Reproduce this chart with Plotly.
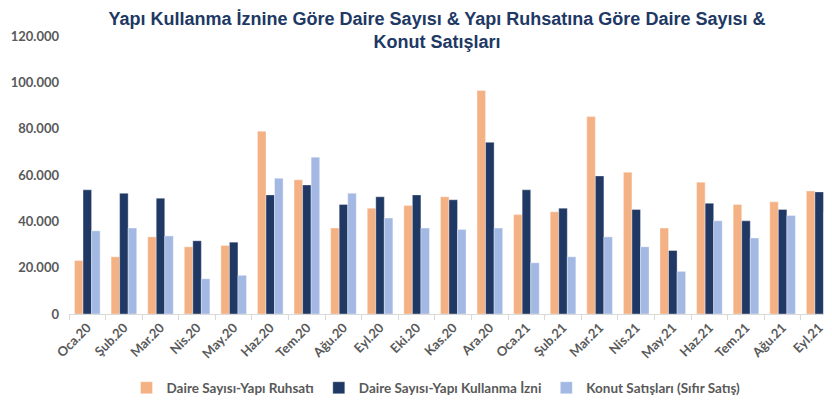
import plotly.graph_objects as go

categories = ["Oca.20", "Şub.20", "Mar.20", "Nis.20", "May.20", "Haz.20", "Tem.20",
              "Ağu.20", "Eyl.20", "Eki.20", "Kas.20", "Ara.20", "Oca.21", "Şub.21",
              "Mar.21", "Nis.21", "May.21", "Haz.21", "Tem.21", "Ağu.21", "Eyl.21"]

ruhsat = [23100, 24700, 33300, 29000, 29600, 78900, 57900, 37100, 45700, 46800, 50600,
          96500, 42900, 44100, 85200, 61200, 37100, 56900, 47300, 48400, 53100]
kullanma = [53600, 52100, 50000, 31600, 31000, 51400, 55700, 47300, 50600, 51400, 49300,
            74100, 53600, 45700, 59600, 45100, 27400, 47800, 40200, 45100, 52700]
satis = [35900, 37100, 33700, 15200, 16700, 58600, 67700, 52100, 41400, 37100, 36500,
         37100, 22100, 24700, 33300, 29000, 18400, 40200, 32800, 42500, 44100]

series_names = ["Daire Sayısı-Yapı Ruhsatı", "Daire Sayısı-Yapı Kullanma İzni",
                "Konut Satışları (Sıfır Satış)"]
colors = ["#F4B183", "#203864", "#A3B8E2"]

title_text = "Yapı Kullanma İznine Göre Daire Sayısı & Yapı Ruhsatına Göre Daire Sayısı &<br>Konut Satışları"

W, H = 824, 398  # page body adds an 8px offset

fig = go.Figure()
for name, vals, col in zip(series_names, [ruhsat, kullanma, satis], colors):
    fig.add_trace(go.Bar(
        x=categories, y=vals, name=name,
        marker=dict(color=col, line=dict(color="rgba(255,255,255,0.6)", width=0.6)),
    ))

fig.update_layout(
    width=W, height=H,
    margin=dict(l=61, r=0, t=28, b=92, autoexpand=False),
    plot_bgcolor="white", paper_bgcolor="white",
    barmode="group", bargap=0.30, bargroupgap=0,
    separators=",.",
    title=dict(
        text=title_text,
        font=dict(family="Liberation Sans", size=18, color="#203864", weight="bold"),
        x=429 / W, xanchor="center", xref="container",
        y=1 - 16.5 / H, yanchor="middle", yref="container",
    ),
    font=dict(family="Lato", color="#595959"),
    showlegend=True,
    legend=dict(
        orientation="h", xref="container", yref="container",
        x=428 / W, xanchor="center", y=1 - 380 / H, yanchor="middle",
        font=dict(family="Lato", size=13.5, color="#595959", weight="bold"),
        itemwidth=30, traceorder="normal",
    ),
)
fig.update_xaxes(
    type="category", range=[-0.5, 20.35], automargin=False,
    showline=True, linecolor="#D9D9D9", linewidth=1,
    ticks="outside", tickson="boundaries", ticklen=5, tickcolor="#D9D9D9",
    tickangle=-45, showgrid=False,
    tickfont=dict(family="Lato", size=13, color="#595959", weight="bold"),
)
fig.update_yaxes(
    range=[0, 120000], dtick=20000, tickformat=",d", automargin=False,
    showgrid=False, zeroline=False, showline=False,
    ticks="", ticklabelstandoff=9,
    tickfont=dict(family="Lato", size=13, color="#595959", weight="bold"),
)

fig.write_html("out.html")
